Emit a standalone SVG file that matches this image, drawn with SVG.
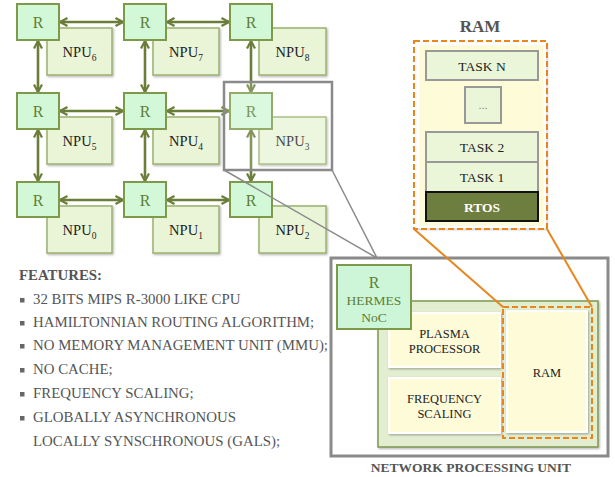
<svg xmlns="http://www.w3.org/2000/svg" width="615" height="477" viewBox="0 0 615 477">
<defs>
<marker id="ah" viewBox="0 0 10 10" refX="9" refY="5" markerWidth="10" markerHeight="10" markerUnits="userSpaceOnUse" orient="auto-start-reverse">
<path d="M1.5,1 L9,5 L1.5,9" fill="none" stroke="#6A7E3A" stroke-width="2.2" stroke-linejoin="miter"/>
</marker>
<filter id="sh" x="-10%" y="-10%" width="130%" height="130%">
<feDropShadow dx="1" dy="1.2" stdDeviation="0.9" flood-color="#000" flood-opacity="0.3"/>
</filter>
</defs>
<style>
.r{fill:#D3F8D8;stroke:#7C9A4A;stroke-width:2}
.rt{font-family:"Liberation Serif",serif;font-size:16px;fill:#5E7E36;text-anchor:middle}
.n{fill:#EAF5D7;stroke:#9AB070;stroke-width:1.5}
.nt{font-family:"Liberation Serif",serif;font-size:14.5px;fill:#222;text-anchor:middle}
.sub{font-size:9.5px}
.a{stroke:#6A7E3A;stroke-width:2.6;fill:none;marker-start:url(#ah);marker-end:url(#ah)}
.f{font-family:"Liberation Serif",serif;font-size:14.85px;fill:#555}
.b{fill:#666}
.task{fill:#EBF6D8;stroke:#999;stroke-width:2}
.tt{font-family:"Liberation Serif",serif;font-size:13.5px;fill:#222;text-anchor:middle}
.y{fill:#FEFBD9;stroke:#fff;stroke-width:2}
.it{font-family:"Liberation Serif",serif;font-size:12.5px;fill:#222;text-anchor:middle}
.od{fill:none;stroke:#E8861E;stroke-width:2;stroke-dasharray:6 3}
.ol{stroke:#E8861E;stroke-width:2;fill:none}
.gl{stroke:#8A8A8A;stroke-width:1.5;fill:none}
</style>

<g id="connectors">
<line class="a" x1="60" y1="22" x2="123" y2="22"/>
<line class="a" x1="167" y1="22" x2="229" y2="22"/>
<line class="a" x1="60" y1="111" x2="123" y2="111"/>
<line class="a" x1="167" y1="111" x2="229" y2="111"/>
<line class="a" x1="60" y1="200" x2="123" y2="200"/>
<line class="a" x1="167" y1="200" x2="229" y2="200"/>
<line class="a" x1="38" y1="41" x2="38" y2="92"/>
<line class="a" x1="145" y1="41" x2="145" y2="92"/>
<line class="a" x1="251" y1="41" x2="251" y2="92"/>
<line class="a" x1="38" y1="130" x2="38" y2="181"/>
<line class="a" x1="145" y1="130" x2="145" y2="181"/>
<line class="a" x1="251" y1="130" x2="251" y2="181"/>
</g>

<g id="npu6"><rect class="n" x="47" y="28" width="65" height="47" filter="url(#sh)"/><text class="nt" x="79.5" y="57">NPU<tspan class="sub" dy="4">6</tspan></text></g>
<g id="npu7"><rect class="n" x="153" y="28" width="66" height="47" filter="url(#sh)"/><text class="nt" x="186" y="57">NPU<tspan class="sub" dy="4">7</tspan></text></g>
<g id="npu8"><rect class="n" x="259" y="28" width="67" height="47" filter="url(#sh)"/><text class="nt" x="292.5" y="57">NPU<tspan class="sub" dy="4">8</tspan></text></g>
<g id="npu5"><rect class="n" x="47" y="117" width="65" height="47" filter="url(#sh)"/><text class="nt" x="79.5" y="146">NPU<tspan class="sub" dy="4">5</tspan></text></g>
<g id="npu4"><rect class="n" x="153" y="117" width="66" height="47" filter="url(#sh)"/><text class="nt" x="186" y="146">NPU<tspan class="sub" dy="4">4</tspan></text></g>
<g id="npu3"><rect class="n" x="259" y="117" width="67" height="47" filter="url(#sh)"/><text class="nt" x="292.5" y="146">NPU<tspan class="sub" dy="4">3</tspan></text></g>
<g id="npu0"><rect class="n" x="47" y="206" width="65" height="47" filter="url(#sh)"/><text class="nt" x="79.5" y="235">NPU<tspan class="sub" dy="4">0</tspan></text></g>
<g id="npu1"><rect class="n" x="153" y="206" width="66" height="47" filter="url(#sh)"/><text class="nt" x="186" y="235">NPU<tspan class="sub" dy="4">1</tspan></text></g>
<g id="npu2"><rect class="n" x="259" y="206" width="67" height="47" filter="url(#sh)"/><text class="nt" x="292.5" y="235">NPU<tspan class="sub" dy="4">2</tspan></text></g>

<g id="r6"><rect class="r" x="17" y="4" width="42" height="36"/><text class="rt" x="38" y="28">R</text></g>
<g id="r7"><rect class="r" x="124" y="4" width="42" height="36"/><text class="rt" x="145" y="28">R</text></g>
<g id="r8"><rect class="r" x="230" y="4" width="42" height="36"/><text class="rt" x="251" y="28">R</text></g>
<g id="r5"><rect class="r" x="17" y="93" width="42" height="36"/><text class="rt" x="38" y="117">R</text></g>
<g id="r4"><rect class="r" x="124" y="93" width="42" height="36"/><text class="rt" x="145" y="117">R</text></g>
<g id="r3"><rect class="r" x="230" y="93" width="42" height="36"/><text class="rt" x="251" y="117">R</text></g>
<g id="r0"><rect class="r" x="17" y="182" width="42" height="35"/><text class="rt" x="38" y="205.5">R</text></g>
<g id="r1"><rect class="r" x="124" y="182" width="42" height="35"/><text class="rt" x="145" y="205.5">R</text></g>
<g id="r2"><rect class="r" x="230" y="182" width="42" height="35"/><text class="rt" x="251" y="205.5">R</text></g>

<g id="zoom-box">
<rect x="224" y="82" width="108" height="88" fill="#fff" fill-opacity="0.18" stroke="#8A8A8A" stroke-width="2.5"/>
<line class="gl" x1="224" y1="170" x2="377" y2="258"/>
<line class="gl" x1="332" y1="170" x2="377" y2="258"/>
</g>

<g id="features">
<text class="f" x="19" y="280" font-weight="bold" fill="#444" font-size="14px">FEATURES:</text>
<rect class="b" x="20" y="298" width="4.5" height="4.5"/><text class="f" x="33" y="304">32 BITS MIPS R-3000 LIKE CPU</text>
<rect class="b" x="20" y="321" width="4.5" height="4.5"/><text class="f" x="33" y="327">HAMILTONNIAN ROUTING ALGORITHM;</text>
<rect class="b" x="20" y="344" width="4.5" height="4.5"/><text class="f" x="33" y="350">NO MEMORY MANAGEMENT UNIT (MMU);</text>
<rect class="b" x="20" y="368" width="4.5" height="4.5"/><text class="f" x="33" y="374">NO CACHE;</text>
<rect class="b" x="20" y="392" width="4.5" height="4.5"/><text class="f" x="33" y="398">FREQUENCY SCALING;</text>
<rect class="b" x="20" y="416" width="4.5" height="4.5"/><text class="f" x="33" y="422">GLOBALLY ASYNCHRONOUS</text>
<text class="f" x="33" y="446">LOCALLY SYNSCHRONOUS (GALS);</text>
</g>

<g id="ram-detail">
<text x="480" y="32" font-family="Liberation Serif, serif" font-size="17px" font-weight="bold" fill="#555" text-anchor="middle">RAM</text>
<rect x="418" y="44" width="127" height="183" fill="#FEFBD9" stroke="#fff" stroke-width="2.5" filter="url(#sh)"/>
<rect class="od" x="414" y="41" width="133" height="188"/>
<g id="task-n"><rect class="task" x="426" y="51" width="112" height="29"/><text class="tt" x="482" y="70.5">TASK N</text></g>
<g id="task-dots"><rect class="task" x="465" y="87" width="36" height="36"/><text x="483" y="109" font-family="Liberation Sans, sans-serif" font-size="11px" fill="#777" text-anchor="middle">...</text></g>
<g id="task-2"><rect class="task" x="426" y="132" width="112" height="30"/><text class="tt" x="482" y="152">TASK 2</text></g>
<g id="task-1"><rect class="task" x="426" y="162" width="112" height="30"/><text class="tt" x="482" y="182">TASK 1</text></g>
<g id="rtos"><rect x="426" y="192" width="112" height="29" fill="#6E7E3F" stroke="#111" stroke-width="2"/><text x="482" y="211.5" font-family="Liberation Serif, serif" font-size="13.5px" font-weight="bold" fill="#fff" text-anchor="middle">RTOS</text></g>
</g>

<g id="npu-detail">
<rect x="331" y="258" width="277" height="198" fill="#fff" stroke="#8A8A8A" stroke-width="3"/>
<rect x="378" y="301" width="220" height="146" fill="#E3EDD0" stroke="#7E9650" stroke-width="1.5" filter="url(#sh)"/>
<g id="plasma"><rect class="y" x="389" y="313" width="111" height="54" filter="url(#sh)"/><text class="it" x="444.5" y="338">PLASMA</text><text class="it" x="444.5" y="353">PROCESSOR</text></g>
<g id="freq"><rect class="y" x="389" y="378" width="111" height="55" filter="url(#sh)"/><text class="it" x="444.5" y="403">FREQUENCY</text><text class="it" x="444.5" y="418">SCALING</text></g>
<g id="ram-small"><rect class="y" x="507" y="311" width="80" height="121" filter="url(#sh)"/><text class="it" x="547" y="377">RAM</text></g>
<rect class="od" x="503" y="307" width="89" height="131"/>
<g id="hermes"><rect x="337" y="265" width="74" height="64" fill="#CDF6D8" stroke="#7C9A4A" stroke-width="2"/>
<text class="rt" x="374" y="288">R</text>
<text x="374" y="305" font-family="Liberation Serif, serif" font-size="13.5px" fill="#5E7E36" text-anchor="middle">HERMES</text>
<text x="374" y="322" font-family="Liberation Serif, serif" font-size="13.5px" fill="#5E7E36" text-anchor="middle">NoC</text></g>
<text x="471" y="472" font-family="Liberation Serif, serif" font-size="13.5px" font-weight="bold" fill="#555" text-anchor="middle">NETWORK PROCESSING UNIT</text>
</g>

<g id="ram-links">
<line class="ol" x1="414" y1="229" x2="503" y2="307"/>
<line class="ol" x1="547" y1="229" x2="592" y2="307"/>
</g>
</svg>
